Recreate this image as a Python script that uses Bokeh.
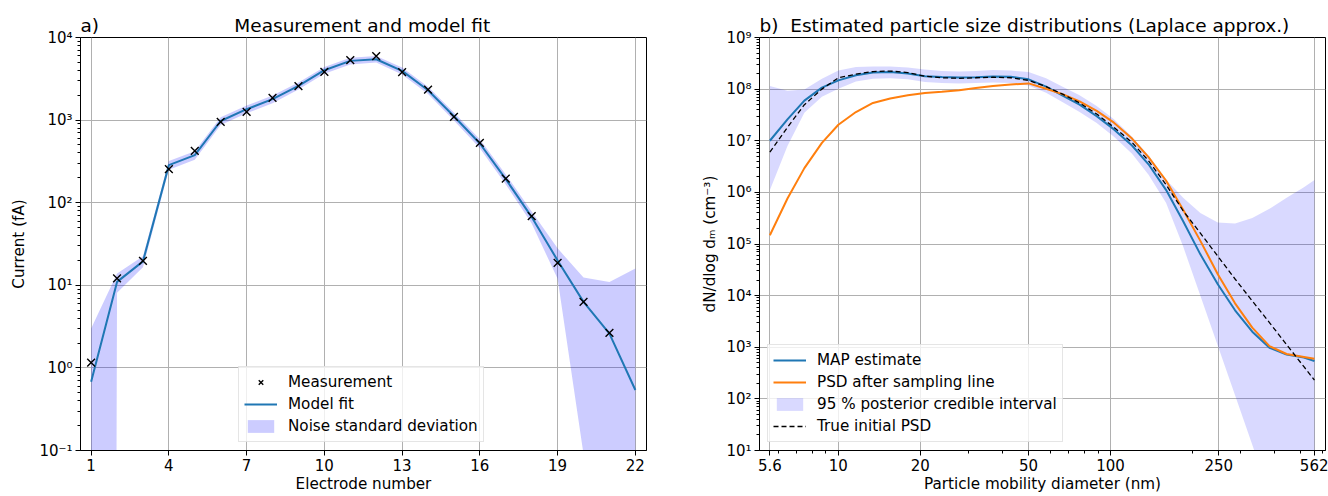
from bokeh.plotting import figure
from bokeh.layouts import row
from bokeh.models import (FixedTicker, CustomJSTickFormatter, Legend, LegendItem,
                          Title, Range1d, ColumnDataSource)
from bokeh.embed import file_html
from bokeh.resources import INLINE

# ---------------- panel a: electrometer currents ----------------
electrode_meas = list(range(1, 22))
current_meas = [1.16, 12.1, 19.8, 255, 424, 951, 1259, 1857, 2573, 3833, 5310,
                5937, 3800, 2345, 1093, 530, 196, 68.7, 18.7, 6.3, 2.65]

electrode_fit = list(range(1, 23))
current_fit = [0.68, 11.0, 19.5, 285, 376, 975, 1355, 1792, 2594, 4018, 5212,
               5459, 3945, 2300, 1115, 521, 193, 67, 20, 6.3, 2.6, 0.54]
# model +/- noise standard deviation (non-positive lower bounds stored as 1e-100)
noise_upper = [3.0, 13.9, 22.5, 320, 420, 1080, 1500, 1980, 2850, 4400, 5700,
               5950, 4320, 2530, 1240, 585, 220, 78, 28, 12.4, 11.0, 16.0]
noise_lower = [1e-100, 8.1, 16.5, 250, 332, 870, 1210, 1600, 2340, 3640, 4720,
               4970, 3570, 2070, 990, 457, 166, 56, 12, 0.09, 1e-100, 1e-100]

electrode_ticks = [1, 4, 7, 10, 13, 16, 19, 22]
current_ticks = [0.1, 1, 10, 100, 1000, 10000]
current_tick_labels = ["10⁻¹", "10⁰", "10¹", "10²", "10³", "10⁴"]

# ---------------- panel b: particle size distributions ----------------
diameter = [5.6, 6.5, 7.5, 8.7, 10, 11.6, 13.4, 15.5, 18, 20.8, 24, 27.8, 32,
            37, 43, 50, 58, 67, 77, 89, 103, 120, 138, 160, 185, 214, 248,
            287, 332, 384, 444, 514, 562]
psd_map = [1.0e7, 2.6e7, 6.0e7, 1.07e8, 1.48e8, 1.86e8, 2.09e8, 2.14e8, 2.0e8,
           1.78e8, 1.72e8, 1.68e8, 1.70e8, 1.76e8, 1.74e8, 1.55e8, 1.12e8,
           7.4e7, 5.0e7, 3.0e7, 1.66e7, 8.1e6, 3.5e6, 1.12e6, 2.75e5, 6.3e4,
           1.66e4, 5.2e3, 2.0e3, 980, 720, 630, 540]
psd_after_line = [1.48e5, 7.6e5, 2.95e6, 9.1e6, 2.04e7, 3.6e7, 5.4e7, 6.6e7,
                  7.6e7, 8.4e7, 8.9e7, 9.5e7, 1.05e8, 1.15e8, 1.23e8, 1.29e8,
                  1.02e8, 7.9e7, 5.8e7, 3.8e7, 2.24e7, 1.1e7, 4.8e6, 1.7e6,
                  4.6e5, 1.15e5, 2.6e4, 7.1e3, 2.4e3, 1.05e3, 740, 650, 600]
psd_true = [6.0e6, 1.82e7, 5.0e7, 1.0e8, 1.66e8, 1.95e8, 2.19e8, 2.24e8, 2.09e8,
            1.78e8, 1.66e8, 1.62e8, 1.66e8, 1.70e8, 1.66e8, 1.48e8, 1.12e8,
            7.9e7, 5.4e7, 3.3e7, 1.82e7, 9.3e6, 4.1e6, 1.41e6, 4.4e5, 1.62e5,
            5.8e4, 2.1e4, 7.9e3, 3.0e3, 1.12e3, 420, 230]
ci_upper = [1.15e8, 9.3e7, 9.8e7, 1.58e8, 2.29e8, 2.69e8, 2.75e8, 2.75e8, 2.63e8,
            2.4e8, 2.24e8, 2.19e8, 2.24e8, 2.34e8, 2.29e8, 2.14e8, 1.62e8,
            1.1e8, 7.6e7, 4.7e7, 2.6e7, 1.2e7, 5.2e6, 1.78e6, 7.9e5, 4.0e5,
            2.6e5, 2.5e5, 3.2e5, 4.8e5, 7.9e5, 1.26e6, 1.74e6]
ci_lower = [1.1e6, 7.9e6, 3.5e7, 7.1e7, 1.02e8, 1.41e8, 1.58e8, 1.62e8, 1.55e8,
            1.38e8, 1.32e8, 1.29e8, 1.32e8, 1.35e8, 1.32e8, 1.17e8, 8.5e7,
            5.5e7, 3.6e7, 2.2e7, 1.2e7, 5.6e6, 2.2e6, 6.3e5, 8.9e4, 1.0e4,
            1.07e3, 117, 12.9, 1.4, 0.15, 0.017, 0.0044]

diameter_ticks = [5.6, 10, 20, 50, 100, 250, 562]
diameter_tick_labels = ["5.6", "10", "20", "50", "100", "250", "562"]
diameter_minor = [6, 7, 8, 9, 30, 40, 60, 70, 80, 90, 200, 300, 400, 500, 600]
psd_ticks = [1e1, 1e2, 1e3, 1e4, 1e5, 1e6, 1e7, 1e8, 1e9]
psd_tick_labels = ["10¹", "10²", "10³", "10⁴", "10⁵", "10⁶", "10⁷", "10⁸", "10⁹"]

FONT = "DejaVu Sans"
TICK_PX = "15px"
LABEL_PX = "15.2px"
TITLE_PX = "18.5px"
BLUE = "#1f77b4"
ORANGE = "#ff7f0e"
NBSP = "\u00a0"


def label_formatter(values, labels):
    return CustomJSTickFormatter(
        args=dict(tick_vals=values, tick_text=labels),
        code="""
        for (let i = 0; i < tick_vals.length; i++) {
            if (Math.abs(tick_vals[i] - tick) <= 1e-9 * Math.abs(tick_vals[i])) return tick_text[i];
        }
        return '';
        """)


def log_minor(major):
    out = []
    for m in major:
        for k in range(2, 10):
            out.append(m * k)
    return out


def style(p):
    p.background_fill_color = "white"
    p.border_fill_color = "white"
    p.outline_line_color = "black"
    p.outline_line_width = 1
    p.outline_line_alpha = 1
    for ax in (p.xaxis[0], p.yaxis[0]):
        ax.axis_line_color = "black"
        ax.axis_line_width = 1
        ax.major_tick_line_color = "black"
        ax.major_tick_out = 5
        ax.major_tick_in = 0
        ax.minor_tick_line_color = "black"
        ax.minor_tick_out = 3
        ax.minor_tick_in = 0
        ax.major_label_text_font = FONT
        ax.major_label_text_font_size = TICK_PX
        ax.major_label_text_color = "black"
        ax.axis_label_text_font = FONT
        ax.axis_label_text_font_size = LABEL_PX
        ax.axis_label_text_font_style = "normal"
        ax.axis_label_text_color = "black"
    for g in (p.xgrid[0], p.ygrid[0]):
        g.grid_line_color = "#b0b0b0"
        g.grid_line_width = 1


def legend_style(lg):
    lg.label_text_font = FONT
    lg.label_text_font_size = LABEL_PX
    lg.label_text_color = "black"
    lg.glyph_width = 33
    lg.glyph_height = 16
    lg.label_height = 20
    lg.label_standoff = 11
    lg.spacing = 2
    lg.padding = 5
    lg.margin = 0
    lg.background_fill_color = "white"
    lg.background_fill_alpha = 0.8
    lg.border_line_color = "#cccccc"
    lg.border_line_width = 1


def panel_title(tag, gap, text):
    # panel tag at the frame's left edge, heading after a run of fixed-width spaces
    return Title(text=tag + NBSP * gap + text, align="left", offset=0, standoff=4,
                 text_font=FONT, text_font_size=TITLE_PX, text_font_style="normal",
                 text_color="black")


FW, FH = 566, 413

# ---------------- panel a ----------------
pa = figure(frame_width=FW, frame_height=FH,
            x_range=Range1d(0.59, 22.43), y_range=Range1d(0.1, 1e4),
            y_axis_type="log", output_backend="svg", toolbar_location=None,
            min_border_left=80, min_border_right=51, min_border_top=37,
            min_border_bottom=46,
            title=panel_title("a)", 23, "Measurement and model fit"))
style(pa)
pa.xaxis.ticker = FixedTicker(ticks=electrode_ticks)
pa.xgrid.ticker = FixedTicker(ticks=electrode_ticks)
pa.xaxis.minor_tick_line_color = None
pa.yaxis.ticker = FixedTicker(ticks=current_ticks, minor_ticks=log_minor(current_ticks[:-1]))
pa.ygrid.ticker = FixedTicker(ticks=current_ticks)
pa.yaxis.formatter = label_formatter(current_ticks, current_tick_labels)
pa.xaxis.axis_label = "Electrode number"
pa.yaxis.axis_label = "Current (fA)"
pa.xaxis.axis_label_standoff = 1
pa.yaxis.axis_label_standoff = 8
pa.xaxis.major_label_standoff = 3
pa.yaxis.major_label_standoff = 3

src_fit = ColumnDataSource(dict(x=electrode_fit, y=current_fit, lo=noise_lower, hi=noise_upper))
src_meas = ColumnDataSource(dict(x=electrode_meas, y=current_meas))
r_band = pa.varea(x="x", y1="lo", y2="hi", source=src_fit, fill_color="blue", fill_alpha=0.2)
r_fit = pa.line(x="x", y="y", source=src_fit, line_color=BLUE, line_width=2)
r_meas = pa.scatter(x="x", y="y", source=src_meas, marker="x", size=11,
                    line_color="black", line_width=1.4)

lga = Legend(items=[LegendItem(label="Measurement", renderers=[r_meas]),
                    LegendItem(label="Model fit", renderers=[r_fit]),
                    LegendItem(label="Noise standard deviation", renderers=[r_band])],
             location=(158, 8))
legend_style(lga)
pa.add_layout(lga, "center")

# ---------------- panel b ----------------
pb = figure(frame_width=FW, frame_height=FH,
            x_range=Range1d(5.13, 617), y_range=Range1d(10, 1e9),
            x_axis_type="log", y_axis_type="log",
            output_backend="svg", toolbar_location=None,
            min_border_left=62, min_border_right=3, min_border_top=37,
            min_border_bottom=46,
            title=panel_title("b)", 2, "Estimated particle size distributions (Laplace approx.)"))
style(pb)
pb.xaxis.ticker = FixedTicker(ticks=diameter_ticks, minor_ticks=diameter_minor)
pb.xgrid.ticker = FixedTicker(ticks=diameter_ticks)
pb.xaxis.formatter = label_formatter(diameter_ticks, diameter_tick_labels)
pb.yaxis.ticker = FixedTicker(ticks=psd_ticks, minor_ticks=log_minor(psd_ticks[:-1]))
pb.ygrid.ticker = FixedTicker(ticks=psd_ticks)
pb.yaxis.formatter = label_formatter(psd_ticks, psd_tick_labels)
pb.xaxis.axis_label = "Particle mobility diameter (nm)"
pb.yaxis.axis_label = "dN/dlog dₘ (cm⁻³)"
pb.xaxis.axis_label_standoff = 1
pb.yaxis.axis_label_standoff = 4
pb.xaxis.major_label_standoff = 3
pb.yaxis.major_label_standoff = 3

src_psd = ColumnDataSource(dict(d=diameter, map=psd_map, after=psd_after_line,
                                true=psd_true, lo=ci_lower, hi=ci_upper))
r_ci = pb.varea(x="d", y1="lo", y2="hi", source=src_psd, fill_color="blue", fill_alpha=0.15)
r_map = pb.line(x="d", y="map", source=src_psd, line_color=BLUE, line_width=2)
r_after = pb.line(x="d", y="after", source=src_psd, line_color=ORANGE, line_width=2)
r_true = pb.line(x="d", y="true", source=src_psd, line_color="black", line_width=1.3,
                 line_dash="5 3")

lgb = Legend(items=[LegendItem(label="MAP estimate", renderers=[r_map]),
                    LegendItem(label="PSD after sampling line", renderers=[r_after]),
                    LegendItem(label="95 % posterior credible interval", renderers=[r_ci]),
                    LegendItem(label="True initial PSD", renderers=[r_true])],
             location=(8, 8))
legend_style(lgb)
pb.add_layout(lgb, "center")

layout = row(pa, pb, spacing=0)
open("out.html", "w").write(file_html(layout, INLINE))
